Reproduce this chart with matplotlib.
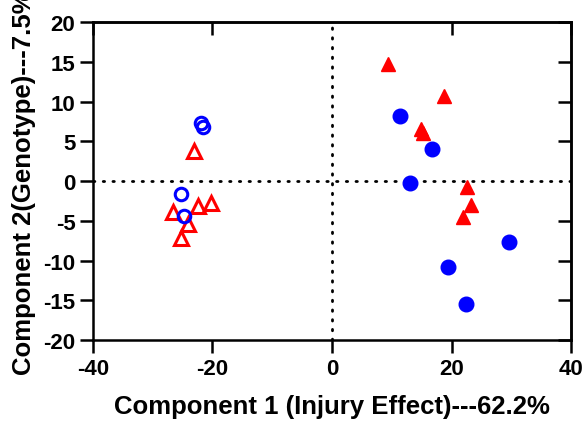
import matplotlib
matplotlib.use('Agg')
import matplotlib.pyplot as plt

plt.rcParams['font.family'] = ['Liberation Sans', 'DejaVu Sans']
plt.rcParams['font.weight'] = 'bold'
plt.rcParams['axes.unicode_minus'] = False

# open red triangles (left group)
tri_open_x = [-23.1, -26.6, -22.4, -20.2, -24.1, -25.3]
tri_open_y = [3.8, -3.9, -3.1, -2.8, -5.4, -7.2]

# open blue circles (left group)
circ_open_x = [-21.9, -21.6, -25.3, -24.8]
circ_open_y = [7.3, 6.8, -1.6, -4.4]

# filled red triangles (right group)
tri_fill_x = [9.4, 18.7, 14.9, 15.2, 22.6, 23.3, 21.9]
tri_fill_y = [14.7, 10.7, 6.5, 6.0, -0.8, -3.0, -4.5]

# filled blue circles (right group)
circ_fill_x = [11.4, 16.7, 13.1, 29.6, 19.4, 22.4]
circ_fill_y = [8.2, 4.0, -0.25, -7.7, -10.8, -15.5]

xticks = [-40, -20, 0, 20, 40]
yticks = [-20, -15, -10, -5, 0, 5, 10, 15, 20]

red = '#ff0000'
blue = '#0000ff'

fig = plt.figure(figsize=(5.84, 4.27), dpi=100)
ax = fig.add_axes([0.159, 0.201, 0.819, 0.745])

ax.axhline(0, color='black', lw=2, linestyle=(0, (0.5, 3)), dash_capstyle='round', zorder=1)
ax.axvline(0, color='black', lw=2, linestyle=(0, (0.5, 3)), dash_capstyle='round', zorder=1)

ax.plot(tri_open_x, tri_open_y, '^', ms=10, mfc='none', mec=red, mew=2.2, ls='none', zorder=3)
ax.plot(circ_open_x, circ_open_y, 'o', ms=9, mfc='none', mec=blue, mew=2.2, ls='none', zorder=3)
ax.plot(tri_fill_x, tri_fill_y, '^', ms=10.5, color=red, mec=red, ls='none', zorder=3)
ax.plot(circ_fill_x, circ_fill_y, 'o', ms=10.5, color=blue, mec=blue, ls='none', zorder=3)

ax.set_xlim(-40, 40)
ax.set_ylim(-20, 20)
ax.set_xticks(xticks)
ax.set_yticks(yticks)
ax.tick_params(direction='out', length=9.5, width=1.8, labelsize=16, pad=3)
for s in ax.spines.values():
    s.set_linewidth(1.8)

# mirrored inward ticks on top/right, skipping zero
top = ax.secondary_xaxis('top')
top.set_xticks([-40, -20, 20, 40])
top.tick_params(direction='in', length=9.5, width=1.8, labeltop=False)
right = ax.secondary_yaxis('right')
right.set_yticks([-20, -15, -10, -5, 5, 10, 15, 20])
right.tick_params(direction='in', length=9.5, width=1.8, labelright=False)
top.spines['top'].set_linewidth(1.8)
right.spines['right'].set_linewidth(1.8)

ax.set_xlabel('Component 1 (Injury Effect)---62.2%', fontsize=18.5, fontweight='bold', labelpad=11)
ax.set_ylabel('Component 2(Genotype)---7.5%', fontsize=18.5, fontweight='bold', loc='bottom')
ax.yaxis.set_label_coords(-0.119, -0.107)

fig.savefig('out.png', dpi=100)
